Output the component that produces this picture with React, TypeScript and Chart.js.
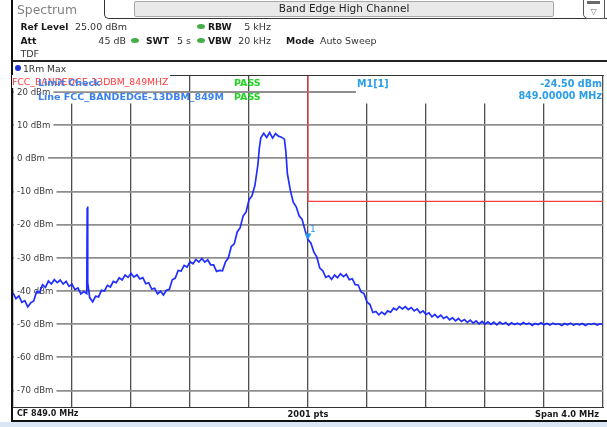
import React, { useEffect, useRef } from "react";
import { Chart, registerables } from "chart.js";

Chart.register(...registerables);

const FONT = "'DejaVu Sans', Verdana, sans-serif";

// ---- data ----
const FREQS_MHZ = [
  847.00, 847.02, 847.04, 847.06, 847.08, 847.10, 847.12, 847.14, 847.16, 847.18,
  847.20, 847.22, 847.24, 847.26, 847.28, 847.30, 847.32, 847.34, 847.36, 847.38,
  847.40, 847.42, 847.44, 847.46, 847.48, 847.50,
  847.503, 847.505, 847.508,
  847.52, 847.54, 847.56, 847.58,
  847.60, 847.62, 847.64, 847.66, 847.68, 847.70, 847.72, 847.74, 847.76, 847.78,
  847.80, 847.82, 847.84, 847.86, 847.88, 847.90, 847.92, 847.94, 847.96, 847.98,
  848.00, 848.02, 848.04, 848.06, 848.08, 848.10, 848.12, 848.14, 848.16, 848.18,
  848.20, 848.22, 848.24, 848.26, 848.28, 848.30, 848.32, 848.34, 848.36, 848.38,
  848.40, 848.42, 848.44, 848.46, 848.48, 848.50, 848.52, 848.54, 848.56, 848.58,
  848.60, 848.62, 848.64, 848.66,
  848.67,
  848.68, 848.70, 848.72, 848.74, 848.76, 848.78, 848.80, 848.82, 848.84,
  848.85,
  848.86, 848.88, 848.90, 848.92, 848.94, 848.96, 848.98,
  849.00, 849.02, 849.04, 849.06, 849.08, 849.10, 849.12, 849.14, 849.16, 849.18,
  849.20, 849.22, 849.24, 849.26, 849.28, 849.30, 849.32, 849.34, 849.36, 849.38,
  849.40, 849.42, 849.44, 849.46, 849.48, 849.50, 849.52, 849.54, 849.56, 849.58,
  849.60, 849.62, 849.64, 849.66, 849.68, 849.70, 849.72, 849.74, 849.76, 849.78,
  849.80, 849.82, 849.84, 849.86, 849.88, 849.90, 849.92, 849.94, 849.96, 849.98,
  850.00, 850.02, 850.04, 850.06, 850.08, 850.10, 850.12, 850.14, 850.16, 850.18,
  850.20, 850.22, 850.24, 850.26, 850.28, 850.30, 850.32, 850.34, 850.36, 850.38,
  850.40, 850.42, 850.44, 850.46, 850.48, 850.50, 850.52, 850.54, 850.56, 850.58,
  850.60, 850.62, 850.64, 850.66, 850.68, 850.70, 850.72, 850.74, 850.76, 850.78,
  850.80, 850.82, 850.84, 850.86, 850.88, 850.90, 850.92, 850.94, 850.96, 850.98,
  851.00,
];

const LEVELS_DBM = [
  -40.6, -42.3, -41.5, -43.4, -42.9, -44.8, -43.6, -43.0, -40.2, -40.5,
  -38.1, -38.9, -37.0, -37.9, -36.6, -37.5, -36.7, -37.9, -37.1, -38.6,
  -38.0, -39.6, -39.1, -40.9, -40.2, -40.8,
  -15.0, -14.5, -37.5,
  -42.0, -43.3, -41.6, -41.8,
  -39.8, -40.0, -38.3, -38.8, -37.1, -37.5, -36.0, -36.7, -35.2, -35.9,
  -34.7, -35.8, -35.1, -36.4, -36.0, -37.8, -37.5, -39.4, -39.2, -40.9,
  -40.1, -41.2, -39.8, -39.5, -36.6, -36.1, -33.8, -34.0, -32.3, -32.8,
  -31.2, -31.8, -30.5, -31.3, -30.2, -31.3, -30.6, -32.1, -32.1, -34.1,
  -33.8, -33.9, -31.3, -30.0, -26.6, -25.8, -22.2, -20.9, -17.4, -16.2,
  -12.5, -11.3, -8.2, -2.0,
  3.0,
  6.2, 7.6, 6.3, 7.8, 6.1, 7.5, 6.7, 6.4, 5.8,
  2.0,
  -4.5, -9.6, -13.2, -14.6, -17.3, -18.4, -21.7,
  -24.5, -25.6, -28.3, -29.8, -33.1, -33.9, -35.9, -35.4, -36.5, -35.2,
  -36.0, -34.8, -35.7, -35.0, -36.6, -36.3, -38.1, -38.2, -40.3, -40.8,
  -43.3, -44.1, -46.5, -46.2, -47.2, -46.4, -47.1, -46.0, -46.4, -45.2,
  -45.7, -44.7, -45.4, -44.7, -45.6, -45.0, -46.0, -45.4, -46.6, -46.0,
  -47.1, -46.6, -47.8, -47.1, -48.0, -47.3, -48.3, -47.7, -48.7, -48.1,
  -49.0, -48.3, -49.2, -48.6, -49.5, -48.8, -49.7, -49.0, -49.9, -49.2,
  -50.0, -49.3, -50.1, -49.4, -50.2, -49.4, -50.0, -49.5, -50.3, -49.6,
  -50.1, -49.7, -50.2, -49.5, -50.0, -49.7, -50.4, -49.8, -50.1, -49.6,
  -50.2, -49.8, -50.3, -49.7, -50.1, -49.9, -50.4, -49.8, -50.2, -49.7,
  -50.3, -49.9, -50.2, -49.8, -50.4, -49.9, -50.1, -49.8, -50.3, -49.9,
  -50.1,
];

const LIMIT_FREQS_MHZ = [849.0, 849.0, 851.0];
const LIMIT_LEVELS_DBM = [25, -13, -13];

const MARKER_FREQ_MHZ = 849.0;
const MARKER_LEVEL_DBM = -24.5;

const X_MIN_MHZ = 847.0;
const X_MAX_MHZ = 851.0;
const Y_MIN_DBM = -75;
const Y_MAX_DBM = 25;
const X_TICKS_MHZ = [847.0, 847.4, 847.8, 848.2, 848.6, 849.0, 849.4, 849.8, 850.2, 850.6, 851.0];
const Y_TICKS_DBM = [20, 10, 0, -10, -20, -30, -40, -50, -60, -70];

const GRID_H = "#8f8f8f";
const GRID_V = "#4d4d4d";

const overlayPlugin = {
  id: "specOverlay",
  beforeDatasetsDraw(chart: any) {
    const { ctx, chartArea: a, scales } = chart;
    const ys = scales.y;
    ctx.save();
    ctx.fillStyle = "#ffffff";
    ctx.fillRect(a.left + 1, a.top + 0.5, 170 - a.left - 1, 103 - a.top);
    ctx.fillRect(356, a.top + 0.5, a.right - 1 - 356, 103 - a.top);
    const y20 = ys.getPixelForValue(20);
    ctx.strokeStyle = GRID_H;
    ctx.lineWidth = 1.8;
    ctx.beginPath();
    ctx.moveTo(a.left, y20);
    ctx.lineTo(356, y20);
    ctx.stroke();
    ctx.font = `8.6px ${FONT}`;
    ctx.textBaseline = "middle";
    ctx.textAlign = "left";
    for (const t of ys.ticks) {
      const v = t.value;
      const py = ys.getPixelForValue(v);
      const label = `${v} dBm`;
      const w = ctx.measureText(label).width;
      ctx.fillStyle = "#ffffff";
      ctx.fillRect(a.left + 1, py - 5, w + 6, 10);
      ctx.fillStyle = "#3c3c3c";
      ctx.fillText(label, a.left + 4, py + 0.5);
    }
    ctx.restore();
  },
  afterDatasetsDraw(chart: any) {
    const { ctx, scales } = chart;
    const px = scales.x.getPixelForValue(MARKER_FREQ_MHZ);
    const py = scales.y.getPixelForValue(MARKER_LEVEL_DBM);
    ctx.save();
    ctx.fillStyle = "#1e9be6";
    ctx.beginPath();
    ctx.moveTo(px - 3.5, py - 6);
    ctx.lineTo(px + 3.5, py - 6);
    ctx.lineTo(px, py);
    ctx.closePath();
    ctx.fill();
    ctx.font = `9px ${FONT}`;
    ctx.textBaseline = "middle";
    ctx.fillText("1", px + 2, py - 10);
    ctx.restore();
  },
};

function Txt(props: any) {
  const { x, cy, size, bold, color, align, bg, children } = props;
  const h = Math.round(size * 1.4);
  const style: any = {
    position: "absolute",
    top: cy - h / 2,
    height: h,
    lineHeight: `${h}px`,
    fontSize: size,
    fontWeight: bold ? 700 : 400,
    color: color || "#1a1a1a",
    whiteSpace: "nowrap",
    fontFamily: FONT,
    background: bg || "transparent",
  };
  if (align === "right") style.right = 607 - x;
  else if (align === "center") {
    style.left = x;
    style.transform = "translateX(-50%)";
  } else style.left = x;
  return <div style={style}>{children}</div>;
}

function Box(props: any) {
  const { l, t, w, h, c, extra } = props;
  return <div style={{ position: "absolute", left: l, top: t, width: w, height: h, background: c, ...(extra || {}) }} />;
}

function Dot({ cx, cy }: any) {
  return <Box l={cx - 4} t={cy - 2.5} w={8} h={5} c="#45ad48" extra={{ borderRadius: "50%" }} />;
}

export default function App() {
  const ref = useRef<HTMLCanvasElement>(null);

  useEffect(() => {
    const trace = FREQS_MHZ.map((f, i) => ({ x: f, y: LEVELS_DBM[i] }));
    const limit = LIMIT_FREQS_MHZ.map((f, i) => ({ x: f, y: LIMIT_LEVELS_DBM[i] }));
    const chart = new Chart(ref.current as HTMLCanvasElement, {
      type: "line",
      data: {
        datasets: [
          {
            label: "1Rm Max",
            data: trace,
            borderColor: "rgba(20,35,255,0.95)",
            borderWidth: 1.7,
            pointRadius: 0,
            tension: 0,
          },
          {
            label: "FCC_BANDEDGE-13DBM_849MHZ",
            data: limit,
            borderColor: "#ff4040",
            borderWidth: 1.2,
            pointRadius: 0,
            tension: 0,
          },
        ],
      },
      options: {
        responsive: false,
        animation: false,
        layout: { padding: { left: 13, right: 4, top: 75.5, bottom: 20 } },
        plugins: { legend: { display: false }, tooltip: { enabled: false } },
        scales: {
          x: {
            type: "linear",
            min: X_MIN_MHZ,
            max: X_MAX_MHZ,
            afterBuildTicks: (s: any) => {
              s.ticks = X_TICKS_MHZ.map((v) => ({ value: v }));
            },
            ticks: { display: false },
            grid: { color: GRID_V, lineWidth: 1.3, drawTicks: false },
            border: { display: false },
          },
          y: {
            type: "linear",
            min: Y_MIN_DBM,
            max: Y_MAX_DBM,
            afterBuildTicks: (s: any) => {
              s.ticks = Y_TICKS_DBM.map((v) => ({ value: v }));
            },
            ticks: { display: false },
            grid: { color: GRID_H, lineWidth: 1.8, drawTicks: false },
            border: { display: false },
          },
        },
      } as any,
      plugins: [overlayPlugin],
    });
    return () => chart.destroy();
  }, []);

  const blue = "#3b82f0";
  const green = "#22d422";
  const sky = "#2a9ee6";

  return (
    <div style={{ position: "absolute", left: 0, top: 0, width: 607, height: 427, overflow: "hidden", background: "#fff", fontFamily: FONT }}>
      <canvas ref={ref} width={607} height={427} style={{ position: "absolute", left: 0, top: 0, width: 607, height: 427 }} />

      {/* header: tab + title */}
      <Txt x={17} cy={9} size={12.4} color="#808080">Spectrum</Txt>
      <div style={{ position: "absolute", left: 104, top: -6, width: 10, height: 23.5, borderLeft: "1px solid #333", borderBottom: "1px solid #333", borderBottomLeftRadius: 5 }} />
      <Box l={113} t={17.5} w={494} h={1} c="#333" />
      <div style={{ position: "absolute", left: 134, top: 1, width: 418, height: 14, background: "#e9e9e9", border: "1px solid #a8a8a8", borderRadius: 2 }} />
      <Txt x={344} cy={8.5} size={10.5} align="center" color="#222">Band Edge High Channel</Txt>
      <div style={{ position: "absolute", left: 583, top: -1, width: 20, height: 18, border: "1px solid #555", borderBottomLeftRadius: 5, background: "#fff" }} />
      <Box l={587} t={1} w={13} h={3} c="#6a6a6a" />
      <Txt x={593.5} cy={11} size={8} align="center" color="#777">▽</Txt>

      {/* parameters */}
      <Txt x={20.5} cy={26} size={9.2} bold>Ref Level</Txt>
      <Txt x={75} cy={26} size={9.5} color="#333">25.00 dBm</Txt>
      <Dot cx={201} cy={26} />
      <Txt x={208} cy={26} size={9.2} bold>RBW</Txt>
      <Txt x={271} cy={26} size={9.5} align="right" color="#333">5 kHz</Txt>

      <Txt x={20.5} cy={40} size={9.2} bold>Att</Txt>
      <Txt x={126} cy={40} size={9.5} align="right" color="#333">45 dB</Txt>
      <Dot cx={135} cy={40} />
      <Txt x={146} cy={40} size={9.2} bold>SWT</Txt>
      <Txt x={177} cy={40} size={9.5} color="#333">5 s</Txt>
      <Dot cx={201} cy={40} />
      <Txt x={208} cy={40} size={9.2} bold>VBW</Txt>
      <Txt x={271} cy={40} size={9.5} align="right" color="#333">20 kHz</Txt>
      <Txt x={286} cy={40} size={9.2} bold>Mode</Txt>
      <Txt x={320} cy={40} size={9.5} color="#333">Auto Sweep</Txt>

      <Txt x={20.5} cy={53} size={9.5} color="#333">TDF</Txt>

      {/* panel frame */}
      <Box l={12} t={60} w={595} h={1.5} c="#222" />
      <Box l={14.5} t={65} w={6} h={6} c="#1a2fd8" extra={{ borderRadius: "50%" }} />
      <Txt x={23} cy={68} size={9.2} color="#333">1Rm Max</Txt>
      <Box l={170} t={75} w={434} h={1} c="#333" />
      <Box l={12} t={406.5} w={592} h={1} c="#333" />
      <Box l={11} t={0} w={2} h={422} c="#111" />
      <Box l={11} t={420} w={596} h={2} c="#111" />
      <Box l={0} t={422} w={607} h={5} c="#dae6f4" />

      {/* limit check + marker texts */}
      <Txt x={12} cy={81.5} size={9.3} color="#ff3b3b" bg="#ffffff">FCC_BANDEDGE-13DBM_849MHZ</Txt>
      <Txt x={38} cy={82} size={9.5} bold color={blue}>Limit Check</Txt>
      <Txt x={234} cy={82} size={9.5} bold color={green}>PASS</Txt>
      <Txt x={38} cy={96.5} size={9.5} bold color={blue}>Line FCC_BANDEDGE-13DBM_849M</Txt>
      <Txt x={234} cy={96.5} size={9.5} bold color={green}>PASS</Txt>
      <Txt x={357} cy={83} size={9.6} bold color={sky}>M1[1]</Txt>
      <Txt x={602} cy={83} size={9.6} bold color={sky} align="right">-24.50 dBm</Txt>
      <Txt x={602} cy={95.5} size={9.6} bold color={sky} align="right">849.00000 MHz</Txt>

      {/* footer */}
      <Txt x={17} cy={413.5} size={8} bold>CF 849.0 MHz</Txt>
      <Txt x={308} cy={413.5} size={8.3} bold align="center">2001 pts</Txt>
      <Txt x={599} cy={413.5} size={8.3} bold align="right">Span 4.0 MHz</Txt>
    </div>
  );
}
